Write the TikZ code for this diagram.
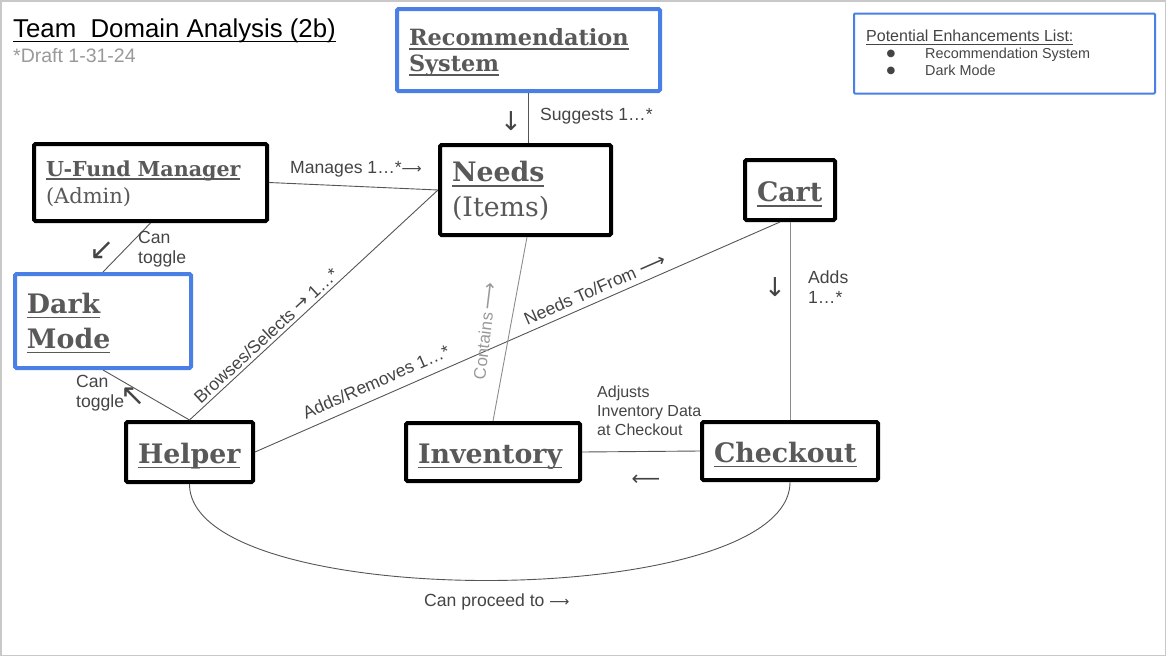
\documentclass[tikz,border=0pt]{standalone}
\usepackage{fontspec}
\setmainfont{Liberation Sans}
\newfontfamily\nserif{DejaVu Serif}
\newfontfamily\dsans{DejaVu Sans}
\usetikzlibrary{calc}
\definecolor{nodetext}{HTML}{595959}
\definecolor{lbltext}{HTML}{444444}
\definecolor{boxblue}{HTML}{4A7FE6}
\definecolor{darkline}{HTML}{555555}
\definecolor{softline}{HTML}{8C8C8C}
\definecolor{palegray}{HTML}{999999}
\definecolor{framegray}{HTML}{C8C8C8}
\newsavebox\ulbox
\newcommand\myul[2][1.8pt]{\leavevmode\sbox\ulbox{#2}\rlap{\rule[-0.2em]{\wd\ulbox}{#1}}\usebox\ulbox}
\begin{document}
\begin{tikzpicture}[x=1pt,y=-1pt,
  box/.style={draw=black, line width=4pt, rounded corners=1.5pt, fill=white, inner xsep=12pt, inner ysep=0pt, align=left, text=nodetext},
  bluebox/.style={box, draw=boxblue},
  onerow/.style={text height=29pt, text depth=7pt},
  conn/.style={draw=darkline, line width=0.9pt},
  softconn/.style={draw=softline, line width=0.9pt},
  lbl/.style={text=lbltext, font=\fontsize{17.6}{20}\selectfont, inner sep=0pt, align=left},
  glyph/.style={text=lbltext, inner sep=0pt, font=\dsans\fontsize{26}{26}\selectfont},
  bigbold/.style={font=\nserif\bfseries\fontsize{26.8}{35}\selectfont},
]
\useasboundingbox (0,0) rectangle (1166,656);
\draw[framegray, line width=1.5pt] (0.75,0.75) rectangle (1165.25,655.25);

% title
\node[anchor=base west, inner sep=0pt, font=\fontsize{25.8}{30}\selectfont] (title) at (13,37.3) {\myul[1.4pt]{Team\ \ Domain Analysis (2b)}};
\node[anchor=base west, inner sep=0pt, text=palegray, font=\fontsize{19.5}{22}\selectfont] (draft) at (13,62.5) {*Draft 1-31-24};

% enhancements list
\node[draw=boxblue, line width=2pt, rounded corners=1pt, minimum width=301pt, minimum height=80pt, inner sep=0pt] (enh) at (1004.5,53.5) {};
\node[lbl, anchor=base west, font=\fontsize{16}{19}\selectfont] (enhtitle) at (866,41.5) {\myul[1pt]{Potential Enhancements List:}};
\node[text=lbltext, inner sep=0pt, font=\dsans\fontsize{10}{10}\selectfont] (b1) at (891,53.5) {●};
\node[text=lbltext, inner sep=0pt, font=\dsans\fontsize{10}{10}\selectfont] (b2) at (891,71) {●};
\node[lbl, anchor=base west, font=\fontsize{14.4}{17}\selectfont] (e1) at (925,58.3) {Recommendation System};
\node[lbl, anchor=base west, font=\fontsize{14.4}{17}\selectfont] (e2) at (925,75.7) {Dark Mode};

% boxes
\node[bluebox, minimum width=263pt, minimum height=82pt, text width=239pt, text height=17pt, text depth=25.6pt, font=\nserif\bfseries\fontsize{22.4}{26}\selectfont] (rec) at (528.5,50) {\myul{Recommendation}\\\myul{System}};
\node[box, bigbold, minimum width=171pt, minimum height=90pt, text width=147pt, text height=20pt, text depth=36.6pt] (needs) at (525.5,190) {\myul{Needs}\\{\mdseries (Items)}};
\node[box, minimum width=233pt, minimum height=77pt, text width=209pt, text height=16pt, text depth=29pt, font=\nserif\bfseries\fontsize{20.6}{27}\selectfont] (ufm) at (150.5,182.5) {\myul{U-Fund Manager}\\{\mdseries\fontsize{21}{27}\selectfont (Admin)}};
\node[box, bigbold, onerow, text height=30.4pt, minimum width=90pt, minimum height=60pt, text width=66pt] (cart) at (790,190) {\myul{Cart}};
\node[bluebox, font=\nserif\bfseries\fontsize{26.8}{35}\selectfont, minimum width=176pt, minimum height=94pt, text width=152pt, text height=20pt, text depth=36pt] (dark) at (103,321) {\myul{Dark}\\\myul{Mode}};
\node[box, bigbold, onerow, minimum width=127pt, minimum height=60pt, text width=103pt] (helper) at (189.5,452) {\myul{Helper}};
\node[box, bigbold, onerow, minimum width=174pt, minimum height=58pt, text width=150pt] (inv) at (493,452) {\myul{Inventory}};
\node[box, bigbold, onerow, minimum width=176pt, minimum height=58pt, text width=152pt] (chk) at (790,451) {\myul{Checkout}};

% connectors
\draw[conn] (rec.south) -- (rec.south |- needs.north);
\draw[conn] (ufm.east) -- (needs.west);
\draw[conn] (ufm.south) -- (dark.north);
\draw[conn] (dark.south) -- (helper.north);
\draw[conn] (helper.north) -- node[lbl, sloped, pos=0.335, above=3pt] (lbrowse) {Browses/Selects {\dsans\fontsize{18}{18}\selectfont →} 1…*} (needs.west);
\draw[conn] (helper.east) -- node[lbl, sloped, pos=0.243, above=9pt] (ladd) {Adds/Removes 1…*} node[lbl, sloped, pos=0.657, above=6pt] (lneed) {Needs To/From {\dsans\fontsize{19}{19}\selectfont ⟶}} ($(cart.south)+(-10,0)$);
\draw[softconn] ($(needs.south)+(1.5,0)$) -- (inv.north);
\draw[softconn] (cart.south) -- (chk.north);
\draw[conn] (chk.west) -- (inv.east);
\draw[conn] (helper.south) .. controls +(0,130) and +(0,130) .. (chk.south);

% labels
\node[lbl, anchor=base west] (lsug) at (540,120.5) {Suggests 1…*};
\node[glyph] (asug) at (511,121) {↓};
\node[lbl, anchor=base west] (lman) at (290,173) {Manages 1…*{\dsans\fontsize{14}{14}\selectfont ⟶}};
\node[lbl, anchor=base west] (ltog1) at (138,263) {Can\\toggle};
\node[glyph, font=\dsans\fontsize{30}{30}\selectfont] (atog1) at (102,251) {↙};
\node[lbl, anchor=base west] (ltog2) at (76,407) {Can\\toggle};
\node[glyph, font=\dsans\fontsize{30}{30}\selectfont] (atog2) at (133,397) {↖};
\node[text=palegray, font=\fontsize{17}{19}\selectfont, rotate=83, inner sep=0pt] (lcont) at (485,331) {Contains\hspace{3pt}{\dsans\fontsize{19}{19}\selectfont ⟶}};
\node[glyph] (acart) at (775,287) {↓};
\node[lbl, anchor=base west] (ladds) at (808,303) {Adds\\1…*};
\node[lbl, anchor=base west, font=\fontsize{16}{19}\selectfont] (ladj) at (597,435) {Adjusts\\Inventory Data\\at Checkout};
\node[glyph, font=\dsans\fontsize{20}{20}\selectfont] (achk) at (646,480) {⟵};
\node[lbl, anchor=base west] (lproc) at (424,606) {Can proceed to {\dsans\fontsize{14}{14}\selectfont ⟶}};
\end{tikzpicture}
\end{document}
